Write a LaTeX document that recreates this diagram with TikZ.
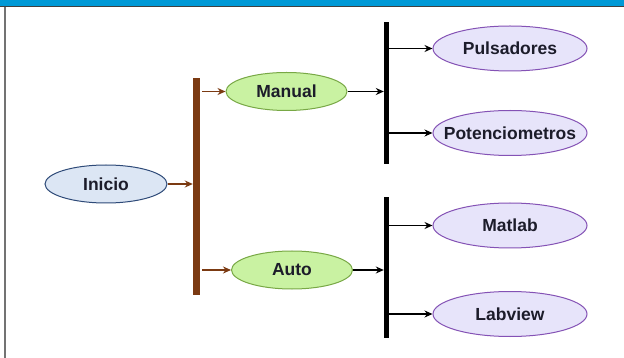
\documentclass[tikz,border=0pt]{standalone}
\usepackage{fontspec}
\setmainfont{Liberation Sans}
\usetikzlibrary{shapes.geometric,arrows.meta}
\definecolor{bandblue}{HTML}{0099D6}
\definecolor{inifill}{HTML}{DCE6F4}
\definecolor{inidraw}{HTML}{2E4A78}
\definecolor{grfill}{HTML}{C9F2A2}
\definecolor{grdraw}{HTML}{78A845}
\definecolor{pufill}{HTML}{E7E4FA}
\definecolor{pudraw}{HTML}{8452B5}
\definecolor{brownbar}{HTML}{7B3A12}
\definecolor{txt}{HTML}{1C1C2A}
\tikzset{
  oval/.style={ellipse, draw, line width=1pt, inner sep=0pt},
  lbl/.style={inner sep=0pt, font=\fontsize{17.5}{19}\selectfont\bfseries, text=txt},
  inistyle/.style={oval, fill=inifill, draw=inidraw, minimum width=122pt, minimum height=38pt},
  grstyle/.style={oval, fill=grfill, draw=grdraw, minimum width=121pt, minimum height=38pt},
  pustyle/.style={oval, fill=pufill, draw=pudraw, minimum width=154pt, minimum height=45pt},
  barstyle/.style={rectangle, inner sep=0pt, draw=none},
  brarrow/.style={draw=brownbar, line width=1.3pt, -{Stealth[length=8pt,width=7pt]}},
  bkarrow/.style={draw=black, line width=1.3pt, -{Stealth[length=8pt,width=7pt]}}
}
\begin{document}
\begin{tikzpicture}[x=1pt,y=-1pt]
\useasboundingbox (0,0) rectangle (624,358);
\fill[white] (0,0) rectangle (624,358);
% top band and left border
\fill[bandblue] (0,0) rectangle (624,6);
\fill[black!75] (0,6) rectangle (624,7.2);
\fill[black!55] (4,7) rectangle (6,358);
% nodes
\node[inistyle] (ini) at (106,184) {};
\node[lbl] at (ini) {Inicio};
\node[barstyle, fill=brownbar, minimum width=7pt, minimum height=217pt] (bar0) at (196.5,186.5) {};
\node[grstyle] (man) at (286.5,91.5) {};
\node[lbl] at (man) {Manual};
\node[grstyle] (aut) at (292,270) {};
\node[lbl] at (aut) {Auto};
\node[barstyle, fill=black, minimum width=5pt, minimum height=142pt] (bar1) at (386.5,93) {};
\node[barstyle, fill=black, minimum width=5pt, minimum height=141pt] (bar2) at (386.5,267.5) {};
\node[pustyle] (pul) at (510,48.5) {};
\node[lbl] at (pul) {Pulsadores};
\node[pustyle] (pot) at (510,133) {};
\node[lbl] at (pot) {Potenciometros};
\node[pustyle] (mat) at (510,225.5) {};
\node[lbl] at (mat) {Matlab};
\node[pustyle] (lab) at (510,314) {};
\node[lbl] at (lab) {Labview};
% connectors
\draw[brarrow] (ini.east) -- (ini.east -| bar0.west);
\draw[brarrow] ([xshift=2pt]bar0.east |- man.west) -- (man.west);
\draw[brarrow] ([xshift=2pt]bar0.east |- aut.west) -- (aut.west);
\draw[bkarrow] (man.east) -- (man.east -| bar1.west);
\draw[bkarrow] (aut.east) -- (aut.east -| bar2.west);
\draw[bkarrow] (bar1.east |- pul.west) -- (pul.west);
\draw[bkarrow] (bar1.east |- pot.west) -- (pot.west);
\draw[bkarrow] (bar2.east |- mat.west) -- (mat.west);
\draw[bkarrow] (bar2.east |- lab.west) -- (lab.west);
\end{tikzpicture}
\end{document}
